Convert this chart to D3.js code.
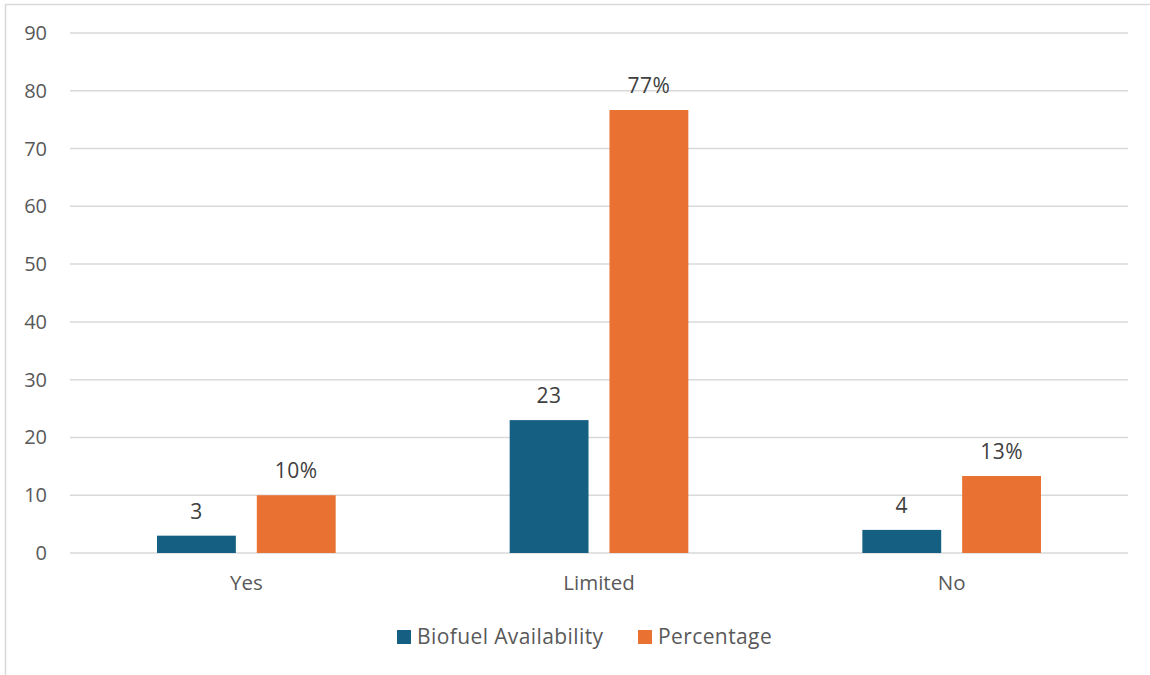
<!DOCTYPE html>
<html lang="en">
<head>
    <script src="https://d3js.org/d3.v7.min.js"></script>
    <style>
        body { margin: 0; background: #fff; }
        text { font-family: "Open Sans", "Noto Sans", sans-serif; }
    </style>
</head>
<body>
    <svg id="chart" width="1150" height="675"></svg>
    <script>
        const categories = ["Yes", "Limited", "No"];
        const seriesNames = ["Biofuel Availability", "Percentage"];
        const availability = [3, 23, 4];
        const percentage = [10, 76.67, 13.33];
        const percentLabels = ["10%", "77%", "13%"];
        const yTicks = [0, 10, 20, 30, 40, 50, 60, 70, 80, 90];
        const colors = ["#156082", "#E97132"];

        const svg = d3.select("#chart");

        // outer chart border
        svg.append("rect")
            .attr("x", 5.5).attr("y", 4.5)
            .attr("width", 1160).attr("height", 680)
            .attr("fill", "none")
            .attr("stroke", "#d9d9d9")
            .attr("stroke-width", 1.5);

        const plotLeft = 70, plotRight = 1128, plotTop = 33, plotBottom = 553;

        const x = d3.scaleBand()
            .domain(categories)
            .range([plotLeft, plotRight]);

        const xInner = d3.scaleBand()
            .domain(seriesNames)
            .range([87, x.bandwidth() - 87])
            .paddingInner(0.21);

        const y = d3.scaleLinear()
            .domain([0, 90])
            .range([plotBottom, plotTop]);

        // gridlines
        svg.append("g")
            .selectAll("line")
            .data(yTicks)
            .join("line")
            .attr("x1", plotLeft).attr("x2", plotRight)
            .attr("y1", d => y(d)).attr("y2", d => y(d))
            .attr("stroke", "#d9d9d9")
            .attr("stroke-width", 1.5);

        // y axis labels
        svg.append("g")
            .selectAll("text")
            .data(yTicks)
            .join("text")
            .attr("x", 47)
            .attr("y", d => y(d))
            .attr("dy", "0.35em")
            .attr("text-anchor", "end")
            .attr("fill", "#595959")
            .style("font-size", "20px")
            .text(d => d);

        const rows = categories.map((c, i) => ({
            cat: c,
            vals: [
                { s: seriesNames[0], v: availability[i], label: String(availability[i]) },
                { s: seriesNames[1], v: percentage[i], label: percentLabels[i] }
            ]
        }));

        const groups = svg.append("g")
            .selectAll("g")
            .data(rows)
            .join("g")
            .attr("transform", d => `translate(${x(d.cat)},0)`);

        groups.selectAll("rect")
            .data(d => d.vals)
            .join("rect")
            .attr("x", d => xInner(d.s))
            .attr("y", d => y(d.v))
            .attr("width", xInner.bandwidth())
            .attr("height", d => y(0) - y(d.v))
            .attr("fill", (d, i) => colors[i]);

        groups.selectAll("text")
            .data(d => d.vals)
            .join("text")
            .attr("x", d => xInner(d.s) + xInner.bandwidth() / 2)
            .attr("y", d => y(d.v) - 17)
            .attr("text-anchor", "middle")
            .attr("fill", "#404040")
            .style("font-size", "21px")
            .style("letter-spacing", "0.5px")
            .text(d => d.label);

        // category labels
        svg.append("g")
            .selectAll("text")
            .data(categories)
            .join("text")
            .attr("x", d => x(d) + x.bandwidth() / 2)
            .attr("y", 583)
            .attr("dy", "0.35em")
            .attr("text-anchor", "middle")
            .attr("fill", "#595959")
            .style("font-size", "20.5px")
            .text(d => d);

        // legend
        const legendX = [397, 638];
        const legend = svg.append("g")
            .selectAll("g")
            .data(seriesNames)
            .join("g")
            .attr("transform", (d, i) => `translate(${legendX[i]},637)`);

        legend.append("rect")
            .attr("x", 0).attr("y", -7)
            .attr("width", 14).attr("height", 14)
            .attr("fill", (d, i) => colors[i]);

        legend.append("text")
            .attr("x", 20)
            .attr("y", 0)
            .attr("dy", "0.35em")
            .attr("fill", "#595959")
            .style("font-size", "21px")
            .style("letter-spacing", "0.4px")
            .text(d => d);
    </script>
</body>
</html>
